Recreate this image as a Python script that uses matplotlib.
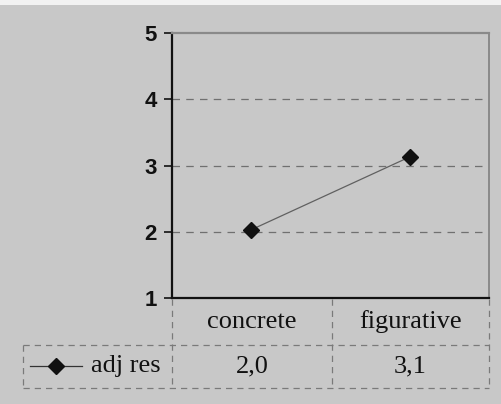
import matplotlib.pyplot as plt
from matplotlib.lines import Line2D
from matplotlib.patches import Rectangle

categories = ['concrete', 'figurative']
values = [2.03, 3.13]
series_name = 'adj res'
yticks = [1, 2, 3, 4, 5]

bg = '#c8c8c8'
W, H = 501, 404

fig = plt.figure(figsize=(W / 100, H / 100), dpi=100, facecolor=bg)
# thin light band along the top edge
fig.add_artist(Rectangle((0, 1 - 5 / H), 1, 5 / H, transform=fig.transFigure,
                         facecolor='#f2f2f2', edgecolor='none'))
ax = fig.add_axes([172 / W, (H - 298) / H, 317 / W, 265 / H], facecolor=bg)

x = list(range(len(categories)))
ax.plot(x, values, color='#606060', lw=0.9, marker='D', markersize=8,
        markerfacecolor='#111111', markeredgecolor='#111111', zorder=3)

ax.set_xlim(-0.5, len(categories) - 0.5)
ax.set_ylim(1, 5)
ax.set_yticks(yticks)
ax.set_yticklabels([str(t) for t in yticks], fontsize=16, fontweight='bold',
                   family='Liberation Sans', color='#111111')
ax.set_xticks([])
ax.tick_params(axis='y', length=6, width=1.2, color='#111111', pad=5)
for t in yticks[1:-1]:
    ax.axhline(t, color='#707070', lw=0.9, ls=(0, (6, 5)), zorder=1)

ax.spines['left'].set_color('#111111')
ax.spines['left'].set_linewidth(1.6)
ax.spines['bottom'].set_color('#111111')
ax.spines['bottom'].set_linewidth(1.6)
ax.spines['top'].set_color('#8a8a8a')
ax.spines['top'].set_linewidth(1.6)
ax.spines['right'].set_color('#8a8a8a')
ax.spines['right'].set_linewidth(1.4)


# data table below the plot, in pixel coords of the figure
def px(xp, yp):
    return xp / W, 1 - yp / H


dash = dict(color='#7a7a7a', lw=0.9, ls=(0, (5, 4)))


def vline(xp, y0, y1):
    (a, b), (c, d) = px(xp, y0), px(xp, y1)
    fig.add_artist(Line2D([a, c], [b, d], **dash))


def hline(yp, x0, x1):
    (a, b), (c, d) = px(x0, yp), px(x1, yp)
    fig.add_artist(Line2D([a, c], [b, d], **dash))


col_edges = [172, 332, 489]
for xe in col_edges:
    vline(xe, 299, 388)
vline(23, 345, 388)
hline(345, 23, 489)
hline(388, 23, 489)

serif = 'Liberation Serif'
for i, (cat, v) in enumerate(zip(categories, values)):
    cx = (col_edges[i] + col_edges[i + 1]) / 2
    fig.text(*px(cx, 322), cat, ha='center', va='center', fontsize=19,
             family=serif, color='#111111')
    fig.text(*px(cx, 366), f'{v:.1f}'.replace('.', ','), ha='center',
             va='center', fontsize=19, family=serif, color='#111111')

(a, b), (c, d) = px(30, 366), px(82, 366)
fig.add_artist(Line2D([a, c], [b, d], color='#333333', lw=0.9))
fig.add_artist(Line2D([(a + c) / 2], [b], marker='D', markersize=8,
                      color='#111111', lw=0))
fig.text(*px(91, 366), series_name, ha='left', va='center', fontsize=19,
         family=serif, color='#111111')

fig.savefig('out.png', dpi=100, facecolor=bg)
